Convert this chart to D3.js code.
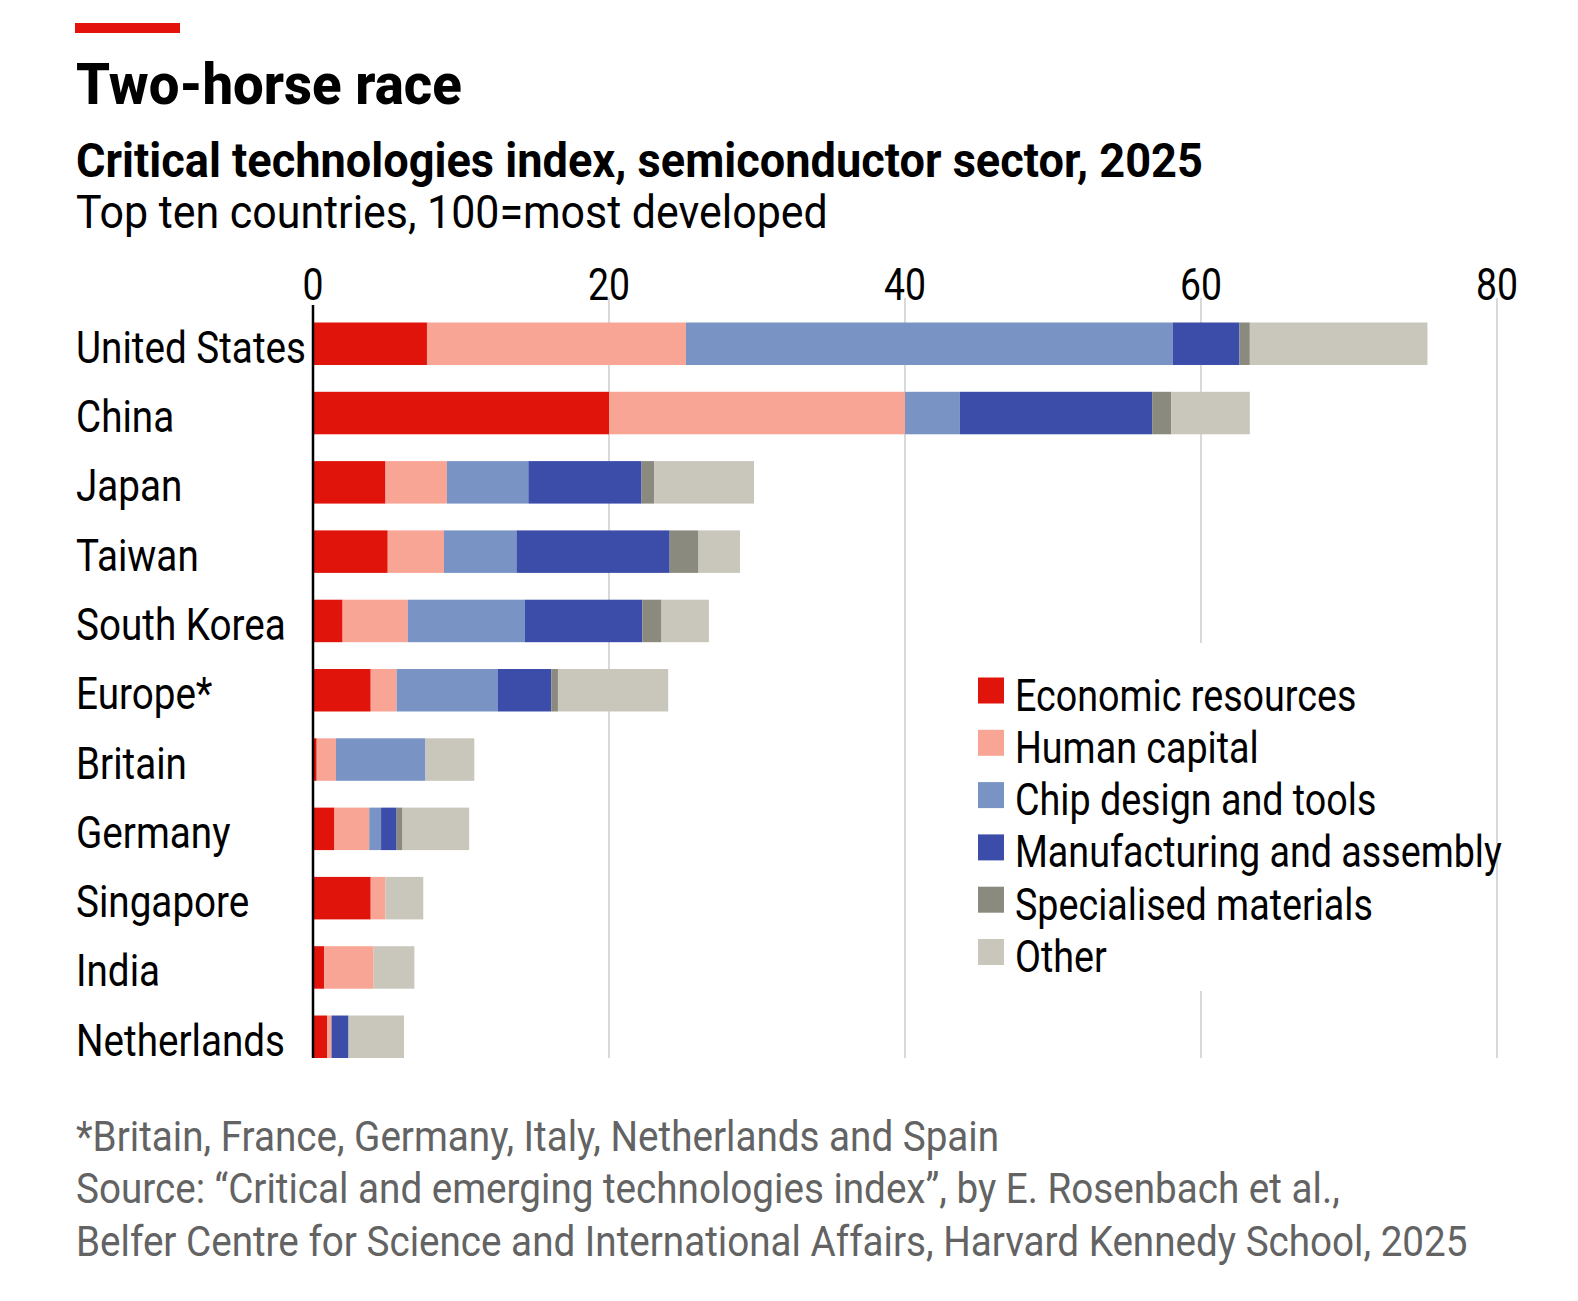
<!DOCTYPE html>
<html>
<head>
<meta charset="utf-8">
<script src="https://cdn.jsdelivr.net/npm/d3@7"></script>
<style>
  body { margin: 0; background: #fff; }
  text { font-family: Roboto, "Noto Sans", sans-serif; }
</style>
</head>
<body>
<main></main>
<script>
// datos
const paises = ["United States", "China", "Japan", "Taiwan", "South Korea", "Europe*",
  "Britain", "Germany", "Singapore", "India", "Netherlands"];

const economicos   = [7.7, 20.0, 4.9, 5.05, 2.0, 3.9, 0.25, 1.45, 3.9, 0.75, 0.95];
const humano       = [17.5, 20.0, 4.15, 3.8, 4.4, 1.75, 1.3, 2.35, 1.0, 3.35, 0.3];
const chips        = [32.9, 3.7, 5.5, 4.9, 7.9, 6.85, 6.05, 0.8, 0, 0, 0];
const fabricacion  = [4.5, 13.0, 7.65, 10.35, 7.95, 3.6, 0, 1.05, 0, 0, 1.15];
const materiales   = [0.7, 1.3, 0.85, 1.95, 1.3, 0.45, 0, 0.4, 0, 0, 0];
const otros        = [12.0, 5.3, 6.75, 2.8, 3.2, 7.45, 3.3, 4.5, 2.55, 2.75, 3.75];

const series = ["Economic resources", "Human capital", "Chip design and tools",
  "Manufacturing and assembly", "Specialised materials", "Other"];
const colores = ["#e1140c", "#f9a595", "#7893c4", "#3b4da8", "#8b8a7e", "#c9c6bb"];
const ticks = [0, 20, 40, 60, 80];

const w = 1578;
const h = 1301;

var svg = d3.select('main')
    .append('svg')
    .attr('width', w)
    .attr('height', h);

// estrecha el texto horizontalmente (la fuente original es condensada)
function squeeze(sel, factor) {
  sel.each(function () {
    const x0 = +this.getAttribute('x');
    this.setAttribute('transform', `translate(${x0 * (1 - factor)},0) scale(${factor},1)`);
  });
}
function factorFor(node, target) {
  return target / node.getComputedTextLength();
}

// cabecera
svg.append('rect').attr('x', 75).attr('y', 23).attr('width', 105).attr('height', 10).attr('fill', '#e3120b');

const titulo = svg.append('text').attr('x', 76).attr('y', 104)
  .style('font-size', '57px').style('font-weight', 800).attr('fill', '#000')
  .text('Two-horse race');
squeeze(titulo, factorFor(titulo.node(), 386));

const sub = svg.append('text').attr('x', 76).attr('y', 177)
  .style('font-size', '49px').style('font-weight', 700).attr('fill', '#000')
  .text('Critical technologies index, semiconductor sector, 2025');
squeeze(sub, factorFor(sub.node(), 1127));

const sub2 = svg.append('text').attr('x', 76).attr('y', 228)
  .style('font-size', '46px').attr('fill', '#000')
  .text('Top ten countries, 100=most developed');
squeeze(sub2, factorFor(sub2.node(), 752));

// escalas
const x = d3.scaleLinear().domain([0, 80]).range([313, 1497]);
const y = d3.scaleBand().domain(paises).range([322.5, 1058]).paddingInner(0.387).paddingOuter(0);

const tabla = paises.map((p, i) => ({
  pais: p,
  "Economic resources": economicos[i],
  "Human capital": humano[i],
  "Chip design and tools": chips[i],
  "Manufacturing and assembly": fabricacion[i],
  "Specialised materials": materiales[i],
  "Other": otros[i]
}));

const pila = d3.stack().keys(series)(tabla);
const color = d3.scaleOrdinal().domain(series).range(colores);

// rejilla
svg.append('g').selectAll('line')
  .data(ticks.filter(t => t > 0))
  .enter().append('line')
  .attr('x1', d => x(d)).attr('x2', d => x(d))
  .attr('y1', 298).attr('y2', 1058)
  .attr('stroke', '#d9d9d9').attr('stroke-width', 2);

// etiquetas del eje
const etiquetasX = svg.append('g').selectAll('text')
  .data(ticks)
  .enter().append('text')
  .attr('x', d => x(d)).attr('y', 300)
  .attr('text-anchor', 'middle')
  .style('font-size', '44px').attr('fill', '#000')
  .text(d => d);
squeeze(etiquetasX, factorFor(etiquetasX.nodes()[4], 42));

// barras
svg.append('g').selectAll('g')
  .data(pila)
  .enter().append('g')
  .attr('fill', d => color(d.key))
  .selectAll('rect')
  .data(d => d)
  .enter().append('rect')
  .attr('x', d => x(d[0]))
  .attr('y', d => y(d.data.pais))
  .attr('width', d => Math.max(0, x(d[1]) - x(d[0])))
  .attr('height', y.bandwidth());

// eje vertical
svg.append('line')
  .attr('x1', x(0)).attr('x2', x(0))
  .attr('y1', 305).attr('y2', 1058)
  .attr('stroke', '#000').attr('stroke-width', 2.5);

// nombres de paises
const etiquetasY = svg.append('g').selectAll('text')
  .data(paises)
  .enter().append('text')
  .attr('x', 76)
  .attr('y', d => y(d) + y.bandwidth() / 2 + 19)
  .style('font-size', '45px').attr('fill', '#000')
  .text(d => d);
squeeze(etiquetasY, factorFor(etiquetasY.nodes()[0], 230));

// leyenda (tapa la rejilla de 60)
const leyenda = svg.append('g');
leyenda.append('rect').attr('x', 960).attr('y', 643).attr('width', 520).attr('height', 348).attr('fill', '#fff');

const filas = leyenda.selectAll('g.fila')
  .data(series)
  .enter().append('g')
  .attr('class', 'fila')
  .attr('transform', (d, i) => `translate(978, ${710.5 + i * 52.3})`);

filas.append('rect')
  .attr('x', 0).attr('y', -33).attr('width', 26).attr('height', 26)
  .attr('fill', d => color(d));

const textosLeyenda = filas.append('text')
  .attr('x', 37).attr('y', 0)
  .style('font-size', '45px').attr('fill', '#000')
  .text(d => d);
squeeze(textosLeyenda, factorFor(textosLeyenda.nodes()[3], 487));

// notas
const notas = [
  "*Britain, France, Germany, Italy, Netherlands and Spain",
  "Source: \u201cCritical and emerging technologies index\u201d, by E. Rosenbach et al.,",
  "Belfer Centre for Science and International Affairs, Harvard Kennedy School, 2025"
];
const pie = svg.append('g').selectAll('text')
  .data(notas)
  .enter().append('text')
  .attr('x', 76)
  .attr('y', (d, i) => 1151 + i * 52.3)
  .style('font-size', '43px').attr('fill', '#636363')
  .text(d => d);
squeeze(pie, factorFor(pie.nodes()[2], 1392));
</script>
</body>
</html>
